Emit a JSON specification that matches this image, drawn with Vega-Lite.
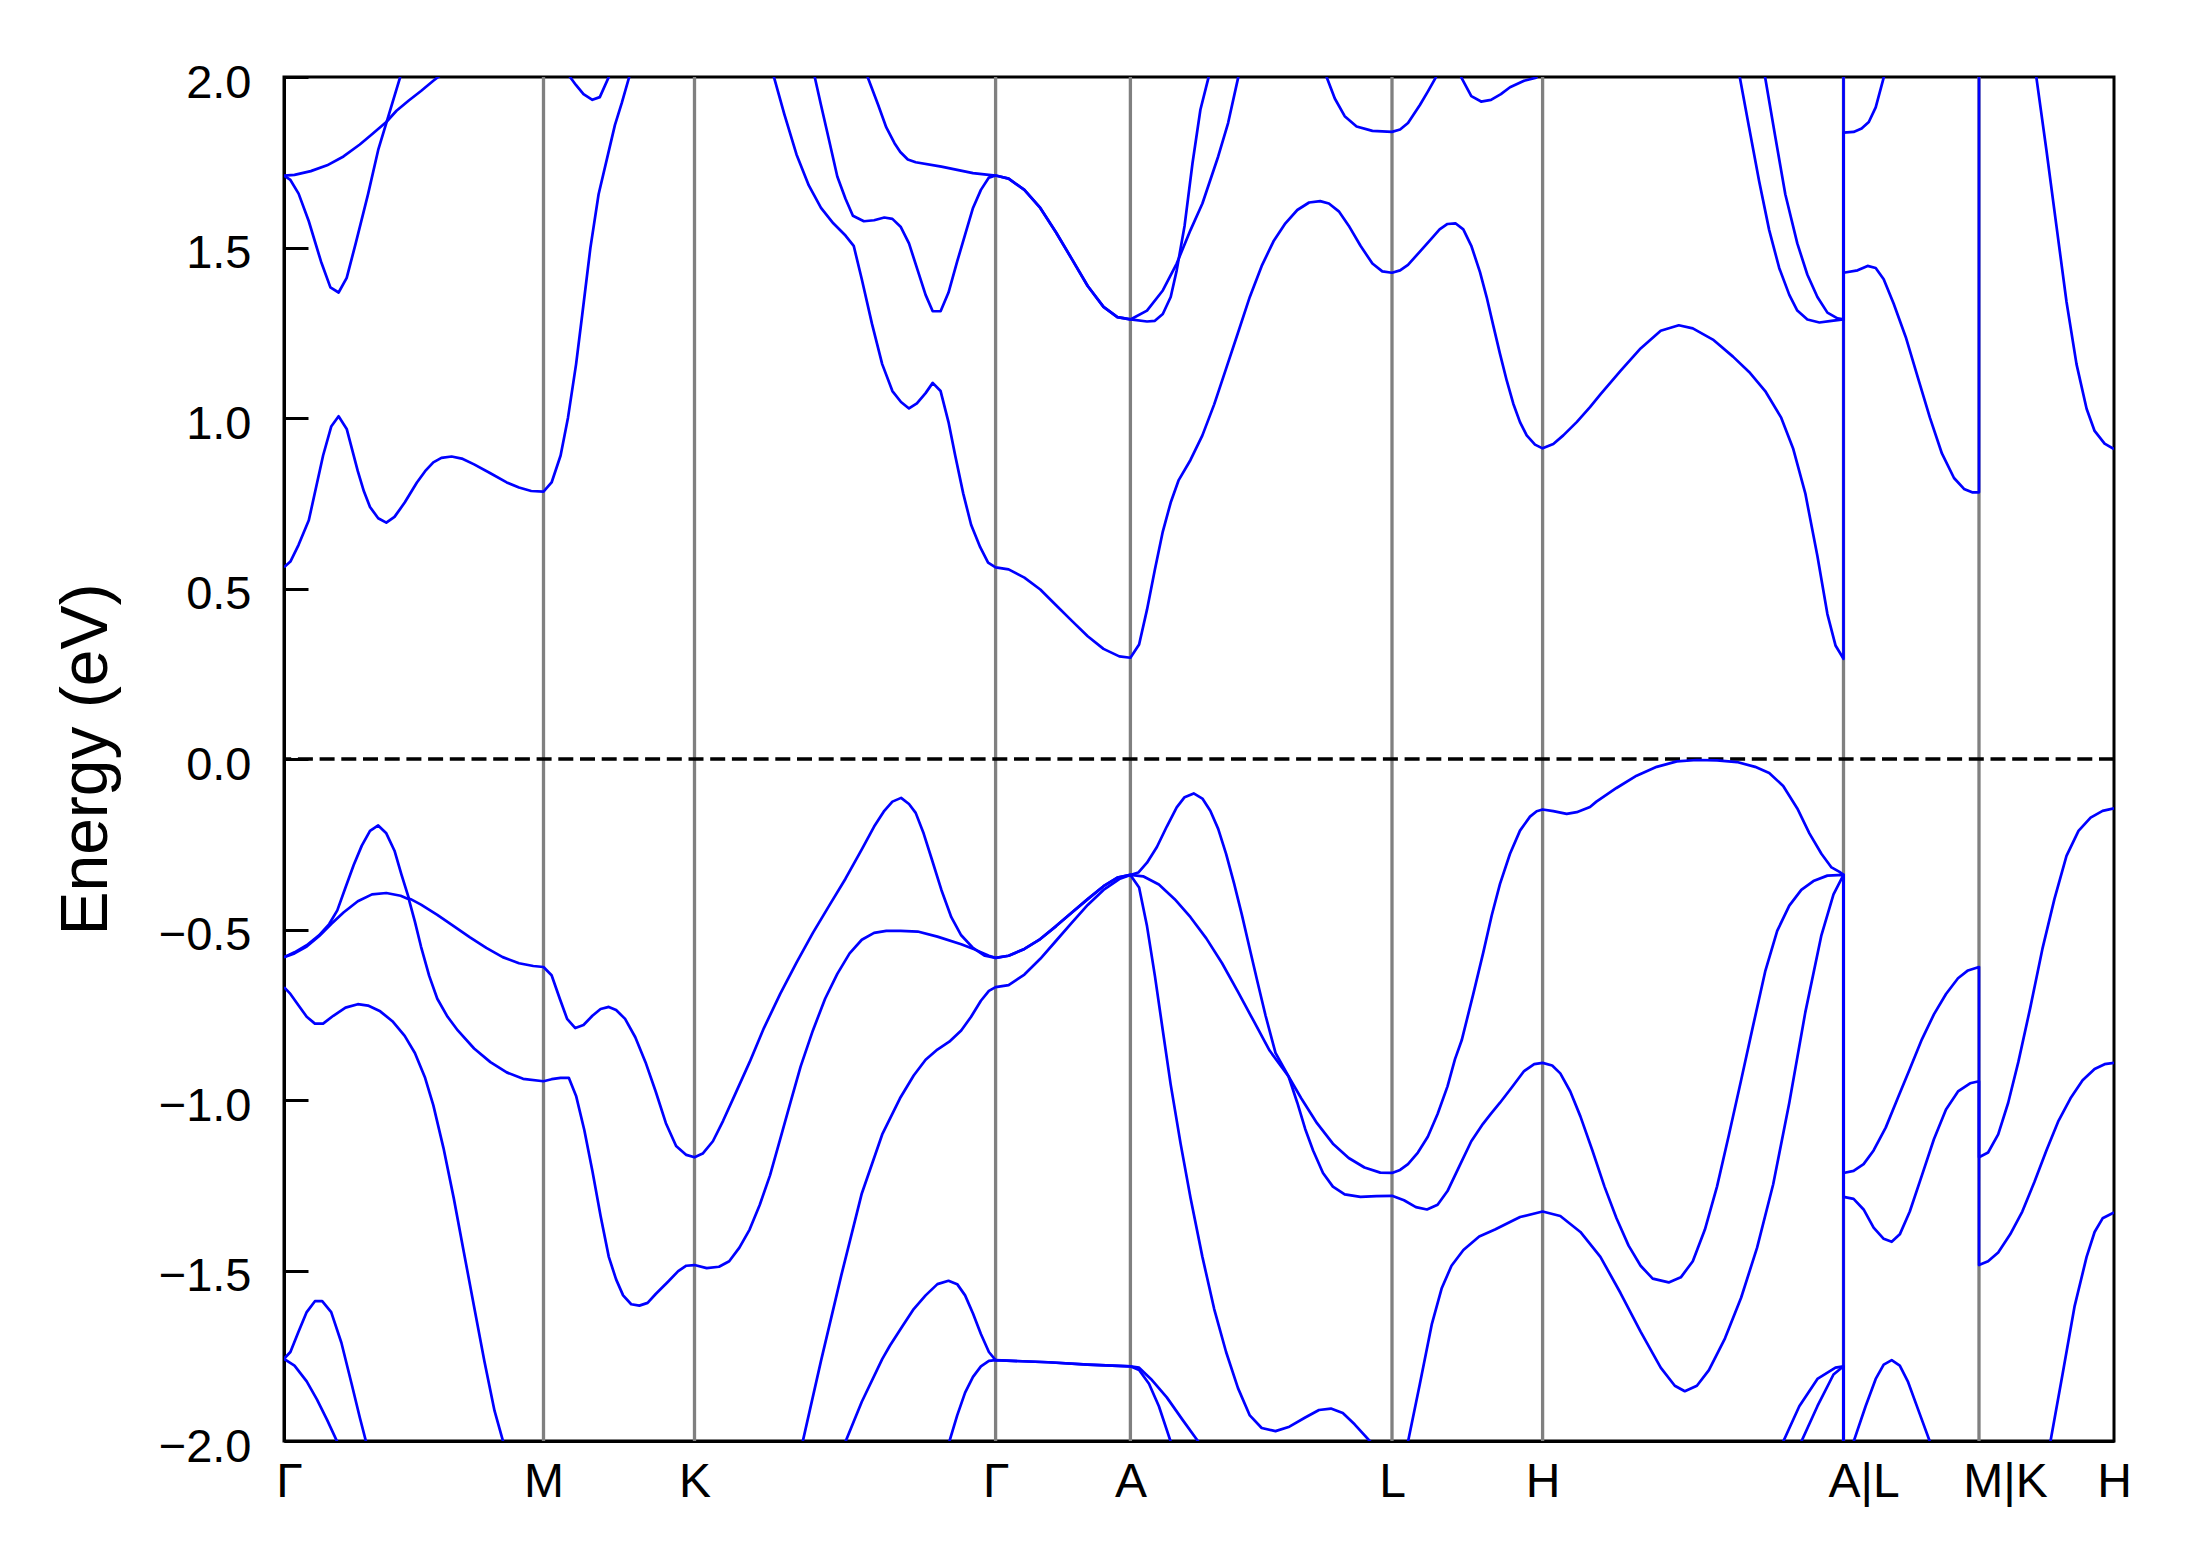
{
"$schema": "https://vega.github.io/schema/vega-lite/v6.json",
"width": 1830, "height": 1364,
"autosize": {"type": "none"},
"padding": {"left": 284, "top": 77, "right": 77, "bottom": 126},
"background": "white",
"config": {"font": "Liberation Sans", "view": {"stroke": "black", "strokeWidth": 3},
  "axisX": {"labelExpr": "datum.value < 1 ? 'Γ' : datum.value < 300 ? 'M' : datum.value < 500 ? 'K' : datum.value < 800 ? 'Γ' : datum.value < 900 ? 'A' : datum.value < 1200 ? 'L' : datum.value < 1400 ? 'H' : datum.value < 1600 ? 'A|L' : datum.value < 1750 ? 'M|K' : 'H'",
            "ticks": false, "grid": false,
            "labelFontSize": 48, "labelColor": "black", "labelPadding": 17,
            "labelFlush": false, "labelOverlap": false, "labelBound": false,
            "domain": true, "domainColor": "black", "domainWidth": 3, "zindex": 1},
  "axisY": {"format": ".1f",
            "titleFontSize": 66, "titleFontWeight": "normal", "titleColor": "black", "titlePadding": 38,
            "labelFontSize": 47, "labelColor": "black", "labelPadding": 57, "labelOffset": 6,
            "tickSize": -24, "tickWidth": 3, "tickColor": "black", "grid": false,
            "labelFlush": false, "labelOverlap": false, "labelBound": false,
            "domain": true, "domainColor": "black", "domainWidth": 3, "zindex": 1}
},
"datasets": {
"kpts": [{"x":259.5},{"x":410.5},{"x":711.6},{"x":846.4},{"x":1108},{"x":1258.6},{"x":1559.5},{"x":1695}],
"zero": [{"e":0}],
"bands": [
{"b":"c1a","x":0,"e":0.562},{"b":"c1a","x":6.4,"e":0.579},{"b":"c1a","x":14.6,"e":0.628},{"b":"c1a","x":24.8,"e":0.700},{"b":"c1a","x":39.1,"e":0.890},{"b":"c1a","x":47.2,"e":0.975},{"b":"c1a","x":54.6,"e":1.005},{"b":"c1a","x":62.7,"e":0.968},{"b":"c1a","x":73.8,"e":0.844},{"b":"c1a","x":79.9,"e":0.785},{"b":"c1a","x":86,"e":0.739},{"b":"c1a","x":94.2,"e":0.706},{"b":"c1a","x":102.3,"e":0.693},{"b":"c1a","x":110.5,"e":0.710},{"b":"c1a","x":120.7,"e":0.752},{"b":"c1a","x":132.9,"e":0.811},{"b":"c1a","x":141.1,"e":0.844},{"b":"c1a","x":149.3,"e":0.870},{"b":"c1a","x":157.4,"e":0.883},{"b":"c1a","x":167.6,"e":0.887},{"b":"c1a","x":177.8,"e":0.881},{"b":"c1a","x":190.1,"e":0.864},{"b":"c1a","x":206.4,"e":0.838},{"b":"c1a","x":222.7,"e":0.811},{"b":"c1a","x":235,"e":0.796},{"b":"c1a","x":247.2,"e":0.786},{"b":"c1a","x":259.5,"e":0.784},{"b":"c1a","x":267.6,"e":0.811},{"b":"c1a","x":276.6,"e":0.890},{"b":"c1a","x":284,"e":1.001},{"b":"c1a","x":292.1,"e":1.158},{"b":"c1a","x":298.2,"e":1.302},{"b":"c1a","x":306.4,"e":1.499},{"b":"c1a","x":314.6,"e":1.656},{"b":"c1a","x":324,"e":1.773},{"b":"c1a","x":330.9,"e":1.859},{"b":"c1a","x":337.8,"e":1.924},{"b":"c1a","x":345.2,"e":2.0},{"b":"c1a","x":352,"e":2.12},
{"b":"c1b","x":480.0,"e":2.107},{"b":"c1b","x":490.1,"e":1.998},{"b":"c1b","x":500.3,"e":1.891},{"b":"c1b","x":512.5,"e":1.773},{"b":"c1b","x":524.8,"e":1.682},{"b":"c1b","x":537.0,"e":1.616},{"b":"c1b","x":549.3,"e":1.571},{"b":"c1b","x":561.5,"e":1.535},{"b":"c1b","x":569.7,"e":1.505},{"b":"c1b","x":577.8,"e":1.407},{"b":"c1b","x":588.0,"e":1.276},{"b":"c1b","x":598.2,"e":1.158},{"b":"c1b","x":608.4,"e":1.079},{"b":"c1b","x":617.0,"e":1.047},{"b":"c1b","x":625.0,"e":1.028},{"b":"c1b","x":632.9,"e":1.043},{"b":"c1b","x":641.6,"e":1.073},{"b":"c1b","x":648.7,"e":1.103},{"b":"c1b","x":656.6,"e":1.079},{"b":"c1b","x":664.5,"e":0.988},{"b":"c1b","x":671.2,"e":0.890},{"b":"c1b","x":679.2,"e":0.779},{"b":"c1b","x":687.1,"e":0.687},{"b":"c1b","x":696.2,"e":0.621},{"b":"c1b","x":704.1,"e":0.576},{"b":"c1b","x":711.6,"e":0.562},{"b":"c1b","x":724.6,"e":0.556},{"b":"c1b","x":740.4,"e":0.532},{"b":"c1b","x":756.3,"e":0.497},{"b":"c1b","x":772.1,"e":0.451},{"b":"c1b","x":787.9,"e":0.405},{"b":"c1b","x":803.7,"e":0.360},{"b":"c1b","x":819.5,"e":0.323},{"b":"c1b","x":835.3,"e":0.301},{"b":"c1b","x":846.4,"e":0.297},{"b":"c1b","x":855.1,"e":0.336},{"b":"c1b","x":863.0,"e":0.438},{"b":"c1b","x":870.9,"e":0.556},{"b":"c1b","x":878.8,"e":0.667},{"b":"c1b","x":886.7,"e":0.752},{"b":"c1b","x":894.7,"e":0.818},{"b":"c1b","x":906.5,"e":0.877},{"b":"c1b","x":918.4,"e":0.949},{"b":"c1b","x":930.2,"e":1.040},{"b":"c1b","x":942.1,"e":1.145},{"b":"c1b","x":954.0,"e":1.250},{"b":"c1b","x":965.8,"e":1.355},{"b":"c1b","x":977.7,"e":1.446},{"b":"c1b","x":989.5,"e":1.518},{"b":"c1b","x":1001.4,"e":1.571},{"b":"c1b","x":1013.3,"e":1.610},{"b":"c1b","x":1025.1,"e":1.632},{"b":"c1b","x":1036.2,"e":1.636},{"b":"c1b","x":1044.9,"e":1.629},{"b":"c1b","x":1054.8,"e":1.606},{"b":"c1b","x":1064.7,"e":1.564},{"b":"c1b","x":1076.5,"e":1.505},{"b":"c1b","x":1088.4,"e":1.453},{"b":"c1b","x":1098.3,"e":1.430},{"b":"c1b","x":1108.0,"e":1.426},{"b":"c1b","x":1116.1,"e":1.433},{"b":"c1b","x":1124.0,"e":1.449},{"b":"c1b","x":1135.9,"e":1.488},{"b":"c1b","x":1147.7,"e":1.527},{"b":"c1b","x":1155.6,"e":1.553},{"b":"c1b","x":1163.5,"e":1.569},{"b":"c1b","x":1171.4,"e":1.571},{"b":"c1b","x":1179.3,"e":1.553},{"b":"c1b","x":1187.3,"e":1.505},{"b":"c1b","x":1196.0,"e":1.428},{"b":"c1b","x":1202.7,"e":1.354},{"b":"c1b","x":1209.3,"e":1.271},{"b":"c1b","x":1216.0,"e":1.188},{"b":"c1b","x":1222.7,"e":1.110},{"b":"c1b","x":1229.3,"e":1.042},{"b":"c1b","x":1236.0,"e":0.988},{"b":"c1b","x":1242.7,"e":0.949},{"b":"c1b","x":1251.0,"e":0.922},{"b":"c1b","x":1258.6,"e":0.911},{"b":"c1b","x":1269.3,"e":0.924},{"b":"c1b","x":1279.3,"e":0.949},{"b":"c1b","x":1292.7,"e":0.988},{"b":"c1b","x":1306.0,"e":1.032},{"b":"c1b","x":1316.4,"e":1.069},{"b":"c1b","x":1336.5,"e":1.138},{"b":"c1b","x":1356.6,"e":1.204},{"b":"c1b","x":1376.7,"e":1.256},{"b":"c1b","x":1394.8,"e":1.272},{"b":"c1b","x":1408.8,"e":1.263},{"b":"c1b","x":1428.9,"e":1.230},{"b":"c1b","x":1449.0,"e":1.180},{"b":"c1b","x":1465.1,"e":1.135},{"b":"c1b","x":1481.2,"e":1.079},{"b":"c1b","x":1497.2,"e":1.001},{"b":"c1b","x":1509.3,"e":0.909},{"b":"c1b","x":1521.3,"e":0.779},{"b":"c1b","x":1533.4,"e":0.595},{"b":"c1b","x":1543.4,"e":0.425},{"b":"c1b","x":1551.5,"e":0.333},{"b":"c1b","x":1559.5,"e":0.294},{"b":"c1b","x":1559.5,"e":1.426},{"b":"c1b","x":1573.6,"e":1.433},{"b":"c1b","x":1583.6,"e":1.446},{"b":"c1b","x":1591.7,"e":1.440},{"b":"c1b","x":1599.7,"e":1.407},{"b":"c1b","x":1609.7,"e":1.335},{"b":"c1b","x":1621.8,"e":1.237},{"b":"c1b","x":1633.8,"e":1.119},{"b":"c1b","x":1645.9,"e":1.001},{"b":"c1b","x":1657.9,"e":0.896},{"b":"c1b","x":1670.0,"e":0.824},{"b":"c1b","x":1680.0,"e":0.792},{"b":"c1b","x":1688.1,"e":0.782},{"b":"c1b","x":1695.0,"e":0.782},{"b":"c1b","x":1695.0,"e":2.6},
{"b":"c1c","x":1746.4,"e":2.128},{"b":"c1c","x":1752.4,"e":1.998},{"b":"c1c","x":1762.4,"e":1.786},{"b":"c1c","x":1772.4,"e":1.564},{"b":"c1c","x":1782.5,"e":1.341},{"b":"c1c","x":1792.5,"e":1.158},{"b":"c1c","x":1802.6,"e":1.027},{"b":"c1c","x":1810.6,"e":0.962},{"b":"c1c","x":1820.6,"e":0.925},{"b":"c1c","x":1830.0,"e":0.909},
{"b":"c2","x":0,"e":1.711},{"b":"c2","x":6.4,"e":1.698},{"b":"c2","x":14.6,"e":1.658},{"b":"c2","x":24.8,"e":1.577},{"b":"c2","x":37.0,"e":1.459},{"b":"c2","x":46.4,"e":1.383},{"b":"c2","x":54.6,"e":1.368},{"b":"c2","x":62.7,"e":1.411},{"b":"c2","x":71.7,"e":1.512},{"b":"c2","x":84.0,"e":1.656},{"b":"c2","x":94.2,"e":1.786},{"b":"c2","x":102.3,"e":1.865},{"b":"c2","x":108.4,"e":1.924},{"b":"c2","x":115.8,"e":1.996},{"b":"c2","x":120,"e":2.06},
{"b":"c3","x":0,"e":1.711},{"b":"c3","x":10.5,"e":1.713},{"b":"c3","x":26.8,"e":1.724},{"b":"c3","x":43.1,"e":1.741},{"b":"c3","x":59.5,"e":1.767},{"b":"c3","x":75.8,"e":1.802},{"b":"c3","x":88.0,"e":1.832},{"b":"c3","x":102.3,"e":1.868},{"b":"c3","x":112.5,"e":1.901},{"b":"c3","x":124.8,"e":1.931},{"b":"c3","x":137.0,"e":1.959},{"b":"c3","x":149.3,"e":1.989},{"b":"c3","x":154.2,"e":2.0},{"b":"c3","x":160,"e":2.013},
{"b":"dip","x":283,"e":2.03},{"b":"dip","x":286.0,"e":2.0},{"b":"dip","x":292.1,"e":1.976},{"b":"dip","x":299.5,"e":1.950},{"b":"dip","x":308.4,"e":1.933},{"b":"dip","x":315.8,"e":1.941},{"b":"dip","x":324.8,"e":2.0},{"b":"dip","x":327,"e":2.03},
{"b":"c2p","x":527,"e":2.05},{"b":"c2p","x":530.9,"e":1.998},{"b":"c2p","x":537.0,"e":1.918},{"b":"c2p","x":545.2,"e":1.813},{"b":"c2p","x":553.3,"e":1.708},{"b":"c2p","x":561.5,"e":1.643},{"b":"c2p","x":568.9,"e":1.593},{"b":"c2p","x":579.9,"e":1.577},{"b":"c2p","x":590.1,"e":1.580},{"b":"c2p","x":600.3,"e":1.588},{"b":"c2p","x":608.4,"e":1.584},{"b":"c2p","x":616.6,"e":1.561},{"b":"c2p","x":625.0,"e":1.512},{"b":"c2p","x":633.7,"e":1.433},{"b":"c2p","x":641.6,"e":1.361},{"b":"c2p","x":648.7,"e":1.313},{"b":"c2p","x":656.6,"e":1.313},{"b":"c2p","x":664.5,"e":1.368},{"b":"c2p","x":673.2,"e":1.459},{"b":"c2p","x":681.1,"e":1.538},{"b":"c2p","x":689.0,"e":1.616},{"b":"c2p","x":696.9,"e":1.669},{"b":"c2p","x":704.9,"e":1.705},{"b":"c2p","x":711.6,"e":1.711},{"b":"c2p","x":724.6,"e":1.702},{"b":"c2p","x":740.4,"e":1.669},{"b":"c2p","x":756.3,"e":1.616},{"b":"c2p","x":772.1,"e":1.544},{"b":"c2p","x":787.9,"e":1.466},{"b":"c2p","x":803.7,"e":1.387},{"b":"c2p","x":819.5,"e":1.326},{"b":"c2p","x":833.4,"e":1.296},{"b":"c2p","x":846.4,"e":1.289},{"b":"c2p","x":863.0,"e":1.315},{"b":"c2p","x":878.8,"e":1.374},{"b":"c2p","x":892.7,"e":1.453},{"b":"c2p","x":906.5,"e":1.551},{"b":"c2p","x":918.4,"e":1.629},{"b":"c2p","x":934.2,"e":1.767},{"b":"c2p","x":944.1,"e":1.865},{"b":"c2p","x":954.0,"e":1.996},{"b":"c2p","x":957,"e":2.04},
{"b":"c3p","x":579,"e":2.04},{"b":"c3p","x":583.9,"e":1.998},{"b":"c3p","x":594.2,"e":1.918},{"b":"c3p","x":602.3,"e":1.852},{"b":"c3p","x":610.5,"e":1.806},{"b":"c3p","x":616.3,"e":1.780},{"b":"c3p","x":623.8,"e":1.758},{"b":"c3p","x":631.7,"e":1.750},{"b":"c3p","x":657.4,"e":1.737},{"b":"c3p","x":689.0,"e":1.718},{"b":"c3p","x":711.6,"e":1.711},{"b":"c3p","x":724.6,"e":1.702},{"b":"c3p","x":740.4,"e":1.669},{"b":"c3p","x":756.3,"e":1.616},{"b":"c3p","x":772.1,"e":1.544},{"b":"c3p","x":787.9,"e":1.466},{"b":"c3p","x":803.7,"e":1.387},{"b":"c3p","x":819.5,"e":1.326},{"b":"c3p","x":833.4,"e":1.296},{"b":"c3p","x":846.4,"e":1.289},{"b":"c3p","x":863.0,"e":1.283},{"b":"c3p","x":870.9,"e":1.285},{"b":"c3p","x":878.8,"e":1.305},{"b":"c3p","x":886.7,"e":1.355},{"b":"c3p","x":892.7,"e":1.433},{"b":"c3p","x":900.6,"e":1.564},{"b":"c3p","x":908.5,"e":1.747},{"b":"c3p","x":916.4,"e":1.904},{"b":"c3p","x":924.3,"e":1.996},{"b":"c3p","x":926,"e":2.02},
{"b":"topL","x":1039,"e":2.03},{"b":"topL","x":1042.9,"e":1.998},{"b":"topL","x":1050.8,"e":1.937},{"b":"topL","x":1060.7,"e":1.885},{"b":"topL","x":1072.6,"e":1.855},{"b":"topL","x":1088.4,"e":1.842},{"b":"topL","x":1108.0,"e":1.839},{"b":"topL","x":1116.1,"e":1.846},{"b":"topL","x":1124.0,"e":1.865},{"b":"topL","x":1135.9,"e":1.918},{"b":"topL","x":1143.8,"e":1.957},{"b":"topL","x":1151.7,"e":1.998},{"b":"topL","x":1154,"e":2.03},
{"b":"topLH","x":1174,"e":2.03},{"b":"topLH","x":1177.4,"e":1.998},{"b":"topLH","x":1187.3,"e":1.944},{"b":"topLH","x":1197.1,"e":1.928},{"b":"topLH","x":1207.0,"e":1.933},{"b":"topLH","x":1216.9,"e":1.950},{"b":"topLH","x":1226.0,"e":1.970},{"b":"topLH","x":1240.1,"e":1.989},{"b":"topLH","x":1252.2,"e":1.998},{"b":"topLH","x":1256,"e":2.02},
{"b":"cx","x":1452,"e":2.1},{"b":"cx","x":1455.9,"e":1.998},{"b":"cx","x":1465.1,"e":1.852},{"b":"cx","x":1475.1,"e":1.695},{"b":"cx","x":1485.2,"e":1.551},{"b":"cx","x":1495.2,"e":1.440},{"b":"cx","x":1505.3,"e":1.361},{"b":"cx","x":1513.3,"e":1.315},{"b":"cx","x":1523.4,"e":1.289},{"b":"cx","x":1535.4,"e":1.280},{"b":"cx","x":1547.5,"e":1.285},{"b":"cx","x":1559.5,"e":1.289},{"b":"cx","x":1559.5,"e":1.837},{"b":"cx","x":1569.6,"e":1.839},{"b":"cx","x":1577.6,"e":1.849},{"b":"cx","x":1584.8,"e":1.868},{"b":"cx","x":1591.7,"e":1.911},{"b":"cx","x":1599.7,"e":1.998},{"b":"cx","x":1602,"e":2.03},
{"b":"cy","x":1478,"e":2.06},{"b":"cy","x":1481.2,"e":1.998},{"b":"cy","x":1491.2,"e":1.826},{"b":"cy","x":1501.3,"e":1.656},{"b":"cy","x":1513.3,"e":1.512},{"b":"cy","x":1523.4,"e":1.420},{"b":"cy","x":1533.4,"e":1.355},{"b":"cy","x":1543.4,"e":1.309},{"b":"cy","x":1553.5,"e":1.292},{"b":"cy","x":1559.5,"e":1.289},{"b":"cy","x":1559.5,"e":2.6},
{"b":"v1","x":0,"e":-0.581},{"b":"v1","x":10.5,"e":-0.567},{"b":"v1","x":22.7,"e":-0.546},{"b":"v1","x":35.0,"e":-0.517},{"b":"v1","x":45.2,"e":-0.484},{"b":"v1","x":53.3,"e":-0.444},{"b":"v1","x":61.5,"e":-0.377},{"b":"v1","x":69.7,"e":-0.311},{"b":"v1","x":77.8,"e":-0.254},{"b":"v1","x":86.0,"e":-0.211},{"b":"v1","x":94.2,"e":-0.195},{"b":"v1","x":102.3,"e":-0.218},{"b":"v1","x":110.5,"e":-0.269},{"b":"v1","x":117.4,"e":-0.338},{"b":"v1","x":124.8,"e":-0.408},{"b":"v1","x":137.0,"e":-0.427},{"b":"v1","x":153.3,"e":-0.457},{"b":"v1","x":169.7,"e":-0.490},{"b":"v1","x":186.0,"e":-0.523},{"b":"v1","x":202.3,"e":-0.554},{"b":"v1","x":218.7,"e":-0.581},{"b":"v1","x":235.0,"e":-0.599},{"b":"v1","x":249.3,"e":-0.607},{"b":"v1","x":259.5,"e":-0.610},{"b":"v1","x":267.6,"e":-0.634},{"b":"v1","x":275.8,"e":-0.703},{"b":"v1","x":283.1,"e":-0.762},{"b":"v1","x":291.3,"e":-0.789},{"b":"v1","x":299.5,"e":-0.780},{"b":"v1","x":308.4,"e":-0.753},{"b":"v1","x":316.6,"e":-0.733},{"b":"v1","x":324.8,"e":-0.727},{"b":"v1","x":332.1,"e":-0.736},{"b":"v1","x":341.1,"e":-0.762},{"b":"v1","x":351.3,"e":-0.816},{"b":"v1","x":361.5,"e":-0.889},{"b":"v1","x":371.7,"e":-0.975},{"b":"v1","x":381.9,"e":-1.068},{"b":"v1","x":392.1,"e":-1.135},{"b":"v1","x":402.3,"e":-1.161},{"b":"v1","x":410.5,"e":-1.168},{"b":"v1","x":418.7,"e":-1.157},{"b":"v1","x":428.9,"e":-1.121},{"b":"v1","x":439.1,"e":-1.061},{"b":"v1","x":451.3,"e":-0.982},{"b":"v1","x":465.6,"e":-0.889},{"b":"v1","x":479.9,"e":-0.789},{"b":"v1","x":496.2,"e":-0.689},{"b":"v1","x":512.5,"e":-0.597},{"b":"v1","x":528.9,"e":-0.510},{"b":"v1","x":545.2,"e":-0.430},{"b":"v1","x":561.5,"e":-0.351},{"b":"v1","x":577.8,"e":-0.265},{"b":"v1","x":590.1,"e":-0.198},{"b":"v1","x":600.3,"e":-0.152},{"b":"v1","x":608.4,"e":-0.125},{"b":"v1","x":617.1,"e":-0.114},{"b":"v1","x":625.0,"e":-0.132},{"b":"v1","x":631.7,"e":-0.158},{"b":"v1","x":639.6,"e":-0.218},{"b":"v1","x":647.5,"e":-0.291},{"b":"v1","x":657.4,"e":-0.384},{"b":"v1","x":667.3,"e":-0.464},{"b":"v1","x":677.2,"e":-0.517},{"b":"v1","x":689.0,"e":-0.554},{"b":"v1","x":700.9,"e":-0.577},{"b":"v1","x":711.6,"e":-0.583},{"b":"v1","x":724.6,"e":-0.577},{"b":"v1","x":740.4,"e":-0.557},{"b":"v1","x":756.3,"e":-0.528},{"b":"v1","x":772.1,"e":-0.490},{"b":"v1","x":787.9,"e":-0.450},{"b":"v1","x":803.7,"e":-0.411},{"b":"v1","x":819.5,"e":-0.373},{"b":"v1","x":833.4,"e":-0.348},{"b":"v1","x":846.4,"e":-0.340},{"b":"v1","x":854.3,"e":-0.333},{"b":"v1","x":863.0,"e":-0.304},{"b":"v1","x":872.9,"e":-0.258},{"b":"v1","x":882.8,"e":-0.198},{"b":"v1","x":892.7,"e":-0.142},{"b":"v1","x":900.6,"e":-0.112},{"b":"v1","x":909.7,"e":-0.101},{"b":"v1","x":918.4,"e":-0.116},{"b":"v1","x":926.3,"e":-0.152},{"b":"v1","x":934.2,"e":-0.205},{"b":"v1","x":942.1,"e":-0.278},{"b":"v1","x":950.0,"e":-0.364},{"b":"v1","x":957.9,"e":-0.457},{"b":"v1","x":965.8,"e":-0.557},{"b":"v1","x":973.7,"e":-0.656},{"b":"v1","x":981.6,"e":-0.753},{"b":"v1","x":991.5,"e":-0.862},{"b":"v1","x":1004.6,"e":-0.931},{"b":"v1","x":1017.2,"e":-0.995},{"b":"v1","x":1033.0,"e":-1.068},{"b":"v1","x":1048.9,"e":-1.128},{"b":"v1","x":1064.7,"e":-1.170},{"b":"v1","x":1080.5,"e":-1.198},{"b":"v1","x":1096.3,"e":-1.213},{"b":"v1","x":1108.0,"e":-1.214},{"b":"v1","x":1116.1,"e":-1.205},{"b":"v1","x":1124.0,"e":-1.188},{"b":"v1","x":1133.9,"e":-1.154},{"b":"v1","x":1143.8,"e":-1.108},{"b":"v1","x":1153.6,"e":-1.041},{"b":"v1","x":1163.5,"e":-0.960},{"b":"v1","x":1171.0,"e":-0.880},{"b":"v1","x":1177.7,"e":-0.825},{"b":"v1","x":1189.3,"e":-0.689},{"b":"v1","x":1199.3,"e":-0.567},{"b":"v1","x":1207.7,"e":-0.459},{"b":"v1","x":1216.0,"e":-0.366},{"b":"v1","x":1226.0,"e":-0.278},{"b":"v1","x":1236.0,"e":-0.210},{"b":"v1","x":1246.0,"e":-0.169},{"b":"v1","x":1252.7,"e":-0.153},{"b":"v1","x":1258.6,"e":-0.148},{"b":"v1","x":1269.3,"e":-0.153},{"b":"v1","x":1282.7,"e":-0.161},{"b":"v1","x":1292.7,"e":-0.156},{"b":"v1","x":1306.0,"e":-0.141},{"b":"v1","x":1312.4,"e":-0.125},{"b":"v1","x":1332.5,"e":-0.085},{"b":"v1","x":1352.6,"e":-0.049},{"b":"v1","x":1372.7,"e":-0.023},{"b":"v1","x":1392.8,"e":-0.007},{"b":"v1","x":1412.9,"e":-0.003},{"b":"v1","x":1433.0,"e":-0.004},{"b":"v1","x":1453.0,"e":-0.009},{"b":"v1","x":1471.1,"e":-0.023},{"b":"v1","x":1485.2,"e":-0.041},{"b":"v1","x":1499.2,"e":-0.079},{"b":"v1","x":1513.3,"e":-0.145},{"b":"v1","x":1525.4,"e":-0.218},{"b":"v1","x":1537.4,"e":-0.278},{"b":"v1","x":1547.5,"e":-0.318},{"b":"v1","x":1555.5,"e":-0.331},{"b":"v1","x":1559.5,"e":-0.340},{"b":"v1","x":1559.5,"e":-1.214},{"b":"v1","x":1569.6,"e":-1.208},{"b":"v1","x":1579.6,"e":-1.188},{"b":"v1","x":1589.6,"e":-1.148},{"b":"v1","x":1601.7,"e":-1.081},{"b":"v1","x":1613.7,"e":-0.995},{"b":"v1","x":1625.8,"e":-0.909},{"b":"v1","x":1637.9,"e":-0.822},{"b":"v1","x":1649.9,"e":-0.749},{"b":"v1","x":1662.0,"e":-0.689},{"b":"v1","x":1674.0,"e":-0.643},{"b":"v1","x":1684.0,"e":-0.620},{"b":"v1","x":1695.0,"e":-0.610},{"b":"v1","x":1695.0,"e":-1.168},{"b":"v1","x":1704.1,"e":-1.154},{"b":"v1","x":1714.2,"e":-1.101},{"b":"v1","x":1724.2,"e":-1.008},{"b":"v1","x":1734.3,"e":-0.889},{"b":"v1","x":1746.3,"e":-0.729},{"b":"v1","x":1758.4,"e":-0.557},{"b":"v1","x":1770.4,"e":-0.411},{"b":"v1","x":1782.5,"e":-0.284},{"b":"v1","x":1794.5,"e":-0.211},{"b":"v1","x":1806.6,"e":-0.172},{"b":"v1","x":1818.6,"e":-0.152},{"b":"v1","x":1830.0,"e":-0.145},
{"b":"v2","x":0,"e":-0.581},{"b":"v2","x":10.5,"e":-0.570},{"b":"v2","x":22.7,"e":-0.550},{"b":"v2","x":35.0,"e":-0.520},{"b":"v2","x":47.2,"e":-0.484},{"b":"v2","x":59.5,"e":-0.450},{"b":"v2","x":73.8,"e":-0.417},{"b":"v2","x":88.0,"e":-0.397},{"b":"v2","x":102.3,"e":-0.393},{"b":"v2","x":116.6,"e":-0.401},{"b":"v2","x":124.8,"e":-0.411},{"b":"v2","x":130.9,"e":-0.477},{"b":"v2","x":137.0,"e":-0.550},{"b":"v2","x":145.2,"e":-0.636},{"b":"v2","x":153.3,"e":-0.703},{"b":"v2","x":163.6,"e":-0.756},{"b":"v2","x":173.8,"e":-0.796},{"b":"v2","x":190.1,"e":-0.849},{"b":"v2","x":206.4,"e":-0.889},{"b":"v2","x":222.7,"e":-0.919},{"b":"v2","x":239.1,"e":-0.938},{"b":"v2","x":259.5,"e":-0.945},{"b":"v2","x":267.6,"e":-0.939},{"b":"v2","x":276.6,"e":-0.935},{"b":"v2","x":284.8,"e":-0.935},{"b":"v2","x":292.1,"e":-0.988},{"b":"v2","x":300.3,"e":-1.088},{"b":"v2","x":308.4,"e":-1.208},{"b":"v2","x":316.6,"e":-1.340},{"b":"v2","x":324.8,"e":-1.460},{"b":"v2","x":332.1,"e":-1.526},{"b":"v2","x":339.1,"e":-1.573},{"b":"v2","x":347.2,"e":-1.599},{"b":"v2","x":355.4,"e":-1.603},{"b":"v2","x":363.6,"e":-1.595},{"b":"v2","x":371.7,"e":-1.569},{"b":"v2","x":384.0,"e":-1.533},{"b":"v2","x":394.2,"e":-1.502},{"b":"v2","x":402.3,"e":-1.486},{"b":"v2","x":410.5,"e":-1.484},{"b":"v2","x":422.7,"e":-1.493},{"b":"v2","x":435.0,"e":-1.489},{"b":"v2","x":445.2,"e":-1.473},{"b":"v2","x":455.4,"e":-1.433},{"b":"v2","x":465.6,"e":-1.380},{"b":"v2","x":475.8,"e":-1.307},{"b":"v2","x":486.0,"e":-1.221},{"b":"v2","x":496.2,"e":-1.115},{"b":"v2","x":506.4,"e":-1.008},{"b":"v2","x":516.6,"e":-0.902},{"b":"v2","x":528.9,"e":-0.796},{"b":"v2","x":541.1,"e":-0.703},{"b":"v2","x":553.3,"e":-0.630},{"b":"v2","x":565.6,"e":-0.570},{"b":"v2","x":577.8,"e":-0.530},{"b":"v2","x":590.1,"e":-0.510},{"b":"v2","x":602.3,"e":-0.504},{"b":"v2","x":616.6,"e":-0.504},{"b":"v2","x":633.7,"e":-0.506},{"b":"v2","x":653.4,"e":-0.521},{"b":"v2","x":677.2,"e":-0.543},{"b":"v2","x":691.0,"e":-0.559},{"b":"v2","x":704.9,"e":-0.577},{"b":"v2","x":711.6,"e":-0.583},{"b":"v2","x":724.6,"e":-0.577},{"b":"v2","x":740.4,"e":-0.557},{"b":"v2","x":756.3,"e":-0.528},{"b":"v2","x":772.1,"e":-0.490},{"b":"v2","x":787.9,"e":-0.450},{"b":"v2","x":803.7,"e":-0.411},{"b":"v2","x":819.5,"e":-0.373},{"b":"v2","x":833.4,"e":-0.348},{"b":"v2","x":846.4,"e":-0.340},{"b":"v2","x":859.1,"e":-0.344},{"b":"v2","x":874.9,"e":-0.368},{"b":"v2","x":890.7,"e":-0.411},{"b":"v2","x":906.5,"e":-0.464},{"b":"v2","x":922.3,"e":-0.526},{"b":"v2","x":938.1,"e":-0.599},{"b":"v2","x":954.0,"e":-0.683},{"b":"v2","x":969.8,"e":-0.769},{"b":"v2","x":985.6,"e":-0.855},{"b":"v2","x":1004.6,"e":-0.931},{"b":"v2","x":1013.3,"e":-1.008},{"b":"v2","x":1021.2,"e":-1.085},{"b":"v2","x":1029.1,"e":-1.148},{"b":"v2","x":1039.0,"e":-1.214},{"b":"v2","x":1048.9,"e":-1.254},{"b":"v2","x":1060.7,"e":-1.277},{"b":"v2","x":1076.5,"e":-1.284},{"b":"v2","x":1092.4,"e":-1.282},{"b":"v2","x":1108.0,"e":-1.281},{"b":"v2","x":1120.0,"e":-1.294},{"b":"v2","x":1131.9,"e":-1.314},{"b":"v2","x":1143.0,"e":-1.321},{"b":"v2","x":1153.6,"e":-1.307},{"b":"v2","x":1163.5,"e":-1.267},{"b":"v2","x":1175.4,"e":-1.194},{"b":"v2","x":1187.3,"e":-1.121},{"b":"v2","x":1199.0,"e":-1.070},{"b":"v2","x":1207.0,"e":-1.040},{"b":"v2","x":1216.0,"e":-1.008},{"b":"v2","x":1228.1,"e":-0.962},{"b":"v2","x":1240.1,"e":-0.915},{"b":"v2","x":1250.2,"e":-0.895},{"b":"v2","x":1258.6,"e":-0.891},{"b":"v2","x":1268.2,"e":-0.899},{"b":"v2","x":1276.3,"e":-0.922},{"b":"v2","x":1286.3,"e":-0.975},{"b":"v2","x":1296.4,"e":-1.048},{"b":"v2","x":1308.4,"e":-1.148},{"b":"v2","x":1320.5,"e":-1.254},{"b":"v2","x":1332.5,"e":-1.347},{"b":"v2","x":1344.6,"e":-1.427},{"b":"v2","x":1356.6,"e":-1.486},{"b":"v2","x":1368.7,"e":-1.524},{"b":"v2","x":1384.7,"e":-1.535},{"b":"v2","x":1396.8,"e":-1.520},{"b":"v2","x":1408.8,"e":-1.473},{"b":"v2","x":1420.9,"e":-1.380},{"b":"v2","x":1433.0,"e":-1.254},{"b":"v2","x":1445.0,"e":-1.101},{"b":"v2","x":1457.1,"e":-0.942},{"b":"v2","x":1469.1,"e":-0.782},{"b":"v2","x":1481.2,"e":-0.623},{"b":"v2","x":1493.2,"e":-0.504},{"b":"v2","x":1505.3,"e":-0.430},{"b":"v2","x":1517.3,"e":-0.384},{"b":"v2","x":1529.4,"e":-0.358},{"b":"v2","x":1543.4,"e":-0.342},{"b":"v2","x":1559.5,"e":-0.340},{"b":"v2","x":1559.5,"e":-1.284},{"b":"v2","x":1569.6,"e":-1.290},{"b":"v2","x":1579.6,"e":-1.321},{"b":"v2","x":1589.6,"e":-1.374},{"b":"v2","x":1599.7,"e":-1.407},{"b":"v2","x":1607.7,"e":-1.416},{"b":"v2","x":1615.8,"e":-1.394},{"b":"v2","x":1625.8,"e":-1.327},{"b":"v2","x":1637.9,"e":-1.221},{"b":"v2","x":1649.9,"e":-1.115},{"b":"v2","x":1662.0,"e":-1.028},{"b":"v2","x":1674.0,"e":-0.975},{"b":"v2","x":1686.1,"e":-0.951},{"b":"v2","x":1695.0,"e":-0.945},{"b":"v2","x":1695.0,"e":-1.484},{"b":"v2","x":1704.1,"e":-1.473},{"b":"v2","x":1714.2,"e":-1.447},{"b":"v2","x":1726.2,"e":-1.394},{"b":"v2","x":1738.3,"e":-1.327},{"b":"v2","x":1750.3,"e":-1.241},{"b":"v2","x":1762.4,"e":-1.148},{"b":"v2","x":1774.5,"e":-1.061},{"b":"v2","x":1786.5,"e":-0.995},{"b":"v2","x":1798.6,"e":-0.942},{"b":"v2","x":1810.6,"e":-0.909},{"b":"v2","x":1820.6,"e":-0.895},{"b":"v2","x":1830.0,"e":-0.891},
{"b":"v3a","x":0,"e":-0.669},{"b":"v3a","x":6.4,"e":-0.689},{"b":"v3a","x":14.6,"e":-0.723},{"b":"v3a","x":22.7,"e":-0.756},{"b":"v3a","x":30.9,"e":-0.776},{"b":"v3a","x":39.1,"e":-0.776},{"b":"v3a","x":49.3,"e":-0.753},{"b":"v3a","x":61.5,"e":-0.729},{"b":"v3a","x":73.8,"e":-0.719},{"b":"v3a","x":84.0,"e":-0.723},{"b":"v3a","x":96.2,"e":-0.740},{"b":"v3a","x":108.4,"e":-0.769},{"b":"v3a","x":120.7,"e":-0.812},{"b":"v3a","x":130.9,"e":-0.862},{"b":"v3a","x":141.1,"e":-0.935},{"b":"v3a","x":149.3,"e":-1.015},{"b":"v3a","x":159.5,"e":-1.141},{"b":"v3a","x":169.7,"e":-1.287},{"b":"v3a","x":179.9,"e":-1.447},{"b":"v3a","x":190.1,"e":-1.606},{"b":"v3a","x":200.3,"e":-1.765},{"b":"v3a","x":210.5,"e":-1.911},{"b":"v3a","x":220.7,"e":-2.018},{"b":"v3a","x":225,"e":-2.08},
{"b":"v3b","x":515,"e":-2.06},{"b":"v3b","x":518.7,"e":-2.002},{"b":"v3b","x":537.0,"e":-1.765},{"b":"v3b","x":557.4,"e":-1.513},{"b":"v3b","x":577.8,"e":-1.274},{"b":"v3b","x":598.2,"e":-1.101},{"b":"v3b","x":616.0,"e":-0.995},{"b":"v3b","x":629.7,"e":-0.928},{"b":"v3b","x":641.6,"e":-0.882},{"b":"v3b","x":653.4,"e":-0.852},{"b":"v3b","x":665.3,"e":-0.829},{"b":"v3b","x":677.2,"e":-0.796},{"b":"v3b","x":687.1,"e":-0.756},{"b":"v3b","x":696.9,"e":-0.709},{"b":"v3b","x":704.9,"e":-0.680},{"b":"v3b","x":711.6,"e":-0.669},{"b":"v3b","x":724.6,"e":-0.663},{"b":"v3b","x":740.4,"e":-0.632},{"b":"v3b","x":756.3,"e":-0.586},{"b":"v3b","x":772.1,"e":-0.533},{"b":"v3b","x":787.9,"e":-0.480},{"b":"v3b","x":803.7,"e":-0.428},{"b":"v3b","x":819.5,"e":-0.384},{"b":"v3b","x":835.3,"e":-0.352},{"b":"v3b","x":846.4,"e":-0.340},{"b":"v3b","x":855.1,"e":-0.377},{"b":"v3b","x":863.0,"e":-0.490},{"b":"v3b","x":870.9,"e":-0.636},{"b":"v3b","x":878.8,"e":-0.796},{"b":"v3b","x":886.7,"e":-0.955},{"b":"v3b","x":896.6,"e":-1.128},{"b":"v3b","x":906.5,"e":-1.287},{"b":"v3b","x":918.4,"e":-1.460},{"b":"v3b","x":930.2,"e":-1.613},{"b":"v3b","x":942.1,"e":-1.739},{"b":"v3b","x":954.0,"e":-1.845},{"b":"v3b","x":965.8,"e":-1.925},{"b":"v3b","x":977.7,"e":-1.962},{"b":"v3b","x":991.5,"e":-1.971},{"b":"v3b","x":1005.4,"e":-1.958},{"b":"v3b","x":1021.2,"e":-1.931},{"b":"v3b","x":1035.0,"e":-1.909},{"b":"v3b","x":1046.9,"e":-1.905},{"b":"v3b","x":1058.8,"e":-1.918},{"b":"v3b","x":1070.6,"e":-1.951},{"b":"v3b","x":1086.4,"e":-2.002},{"b":"v3b","x":1090,"e":-2.02},
{"b":"v3c","x":1120,"e":-2.06},{"b":"v3c","x":1124.0,"e":-2.002},{"b":"v3c","x":1135.9,"e":-1.832},{"b":"v3c","x":1147.7,"e":-1.659},{"b":"v3c","x":1157.6,"e":-1.553},{"b":"v3c","x":1167.5,"e":-1.486},{"b":"v3c","x":1179.4,"e":-1.440},{"b":"v3c","x":1195.2,"e":-1.400},{"b":"v3c","x":1211.0,"e":-1.380},{"b":"v3c","x":1226.0,"e":-1.358},{"b":"v3c","x":1236.1,"e":-1.343},{"b":"v3c","x":1258.6,"e":-1.327},{"b":"v3c","x":1276.3,"e":-1.340},{"b":"v3c","x":1296.4,"e":-1.387},{"b":"v3c","x":1316.4,"e":-1.460},{"b":"v3c","x":1336.5,"e":-1.566},{"b":"v3c","x":1356.6,"e":-1.679},{"b":"v3c","x":1376.7,"e":-1.785},{"b":"v3c","x":1390.8,"e":-1.838},{"b":"v3c","x":1400.8,"e":-1.854},{"b":"v3c","x":1412.9,"e":-1.838},{"b":"v3c","x":1424.9,"e":-1.792},{"b":"v3c","x":1441.0,"e":-1.699},{"b":"v3c","x":1457.1,"e":-1.580},{"b":"v3c","x":1473.1,"e":-1.433},{"b":"v3c","x":1489.2,"e":-1.247},{"b":"v3c","x":1505.3,"e":-1.008},{"b":"v3c","x":1521.3,"e":-0.743},{"b":"v3c","x":1537.4,"e":-0.517},{"b":"v3c","x":1549.5,"e":-0.397},{"b":"v3c","x":1559.5,"e":-0.340},{"b":"v3c","x":1559.5,"e":-2.4},
{"b":"v3d","x":1566,"e":-2.06},{"b":"v3d","x":1569.6,"e":-2.002},{"b":"v3d","x":1581.6,"e":-1.898},{"b":"v3d","x":1591.7,"e":-1.818},{"b":"v3d","x":1599.7,"e":-1.776},{"b":"v3d","x":1607.7,"e":-1.763},{"b":"v3d","x":1615.8,"e":-1.779},{"b":"v3d","x":1623.8,"e":-1.825},{"b":"v3d","x":1633.8,"e":-1.905},{"b":"v3d","x":1645.9,"e":-2.002},{"b":"v3d","x":1649,"e":-2.04},
{"b":"v3e","x":1763,"e":-2.06},{"b":"v3e","x":1766.4,"e":-2.002},{"b":"v3e","x":1778.5,"e":-1.805},{"b":"v3e","x":1790.5,"e":-1.606},{"b":"v3e","x":1802.6,"e":-1.460},{"b":"v3e","x":1810.6,"e":-1.387},{"b":"v3e","x":1818.6,"e":-1.347},{"b":"v3e","x":1830.0,"e":-1.330},
{"b":"v4a","x":0,"e":-1.759},{"b":"v4a","x":6.4,"e":-1.739},{"b":"v4a","x":14.6,"e":-1.679},{"b":"v4a","x":22.7,"e":-1.622},{"b":"v4a","x":30.9,"e":-1.590},{"b":"v4a","x":38.2,"e":-1.590},{"b":"v4a","x":47.2,"e":-1.622},{"b":"v4a","x":57.4,"e":-1.712},{"b":"v4a","x":67.6,"e":-1.832},{"b":"v4a","x":75.8,"e":-1.931},{"b":"v4a","x":84.0,"e":-2.024},{"b":"v4a","x":86,"e":-2.05},
{"b":"v5a","x":0,"e":-1.759},{"b":"v5a","x":10.5,"e":-1.779},{"b":"v5a","x":22.7,"e":-1.825},{"b":"v5a","x":32.9,"e":-1.878},{"b":"v5a","x":43.1,"e":-1.938},{"b":"v5a","x":54.6,"e":-2.011},{"b":"v5a","x":57,"e":-2.03},
{"b":"v4b","x":558,"e":-2.06},{"b":"v4b","x":561.5,"e":-2.002},{"b":"v4b","x":577.8,"e":-1.885},{"b":"v4b","x":598.2,"e":-1.760},{"b":"v4b","x":606.0,"e":-1.720},{"b":"v4b","x":617.9,"e":-1.666},{"b":"v4b","x":629.7,"e":-1.613},{"b":"v4b","x":641.6,"e":-1.573},{"b":"v4b","x":653.4,"e":-1.540},{"b":"v4b","x":664.5,"e":-1.530},{"b":"v4b","x":673.2,"e":-1.540},{"b":"v4b","x":681.1,"e":-1.573},{"b":"v4b","x":689.0,"e":-1.626},{"b":"v4b","x":696.9,"e":-1.686},{"b":"v4b","x":704.9,"e":-1.739},{"b":"v4b","x":711.6,"e":-1.763},{"b":"v4b","x":764.2,"e":-1.769},{"b":"v4b","x":803.7,"e":-1.776},{"b":"v4b","x":846.4,"e":-1.781},{"b":"v4b","x":855.1,"e":-1.792},{"b":"v4b","x":865.0,"e":-1.832},{"b":"v4b","x":874.9,"e":-1.898},{"b":"v4b","x":886.7,"e":-2.002},{"b":"v4b","x":889,"e":-2.03},
{"b":"v5b","x":662,"e":-2.05},{"b":"v5b","x":665.3,"e":-2.002},{"b":"v5b","x":673.2,"e":-1.925},{"b":"v5b","x":681.1,"e":-1.858},{"b":"v5b","x":689.0,"e":-1.812},{"b":"v5b","x":696.9,"e":-1.781},{"b":"v5b","x":704.9,"e":-1.765},{"b":"v5b","x":711.6,"e":-1.763},{"b":"v5b","x":764.2,"e":-1.769},{"b":"v5b","x":803.7,"e":-1.776},{"b":"v5b","x":846.4,"e":-1.781},{"b":"v5b","x":855.1,"e":-1.785},{"b":"v5b","x":866.9,"e":-1.818},{"b":"v5b","x":882.8,"e":-1.872},{"b":"v5b","x":898.6,"e":-1.938},{"b":"v5b","x":914.4,"e":-2.002},{"b":"v5b","x":917,"e":-2.03},
{"b":"v4c","x":1497,"e":-2.05},{"b":"v4c","x":1499.2,"e":-2.002},{"b":"v4c","x":1515.3,"e":-1.898},{"b":"v4c","x":1533.4,"e":-1.818},{"b":"v4c","x":1551.5,"e":-1.785},{"b":"v4c","x":1559.5,"e":-1.781},{"b":"v4c","x":1559.5,"e":-2.3},
{"b":"v5c","x":1515,"e":-2.05},{"b":"v5c","x":1517.3,"e":-2.002},{"b":"v5c","x":1533.4,"e":-1.898},{"b":"v5c","x":1549.5,"e":-1.805},{"b":"v5c","x":1559.5,"e":-1.781},{"b":"v5c","x":1559.5,"e":-2.3}
]
},
"encoding": {
  "x": {"field": "x", "type": "quantitative", "title": null, "scale": {"domain": [0, 1830], "nice": false, "zero": false},
        "axis": {"values": [0, 259.5, 410.5, 711.6, 846.4, 1108, 1258.6, 1559.5, 1695, 1830],
                 "labelOffset": {"condition": [{"test": "datum.value < 1", "value": 5}, {"test": "datum.value > 1600 && datum.value < 1800", "value": 26}, {"test": "datum.value > 1500 && datum.value < 1600", "value": 20}], "value": 0}}},
  "y": {"field": "e", "type": "quantitative", "title": "Energy (eV)", "scale": {"domain": [-2, 2], "nice": false, "zero": false},
        "axis": {"values": [-2, -1.5, -1, -0.5, 0, 0.5, 1, 1.5, 2]}}
},
"layer": [
{"data": {"name": "kpts"},
 "mark": {"type": "rule", "color": "#808080", "strokeWidth": 3.3},
 "encoding": {"y": null}},
{"data": {"name": "zero"},
 "mark": {"type": "rule", "color": "black", "strokeWidth": 3.3, "strokeDash": [15, 6.7]},
 "encoding": {"x": null}},
{"data": {"name": "bands"},
 "mark": {"type": "line", "color": "#0000ff", "strokeWidth": 2.7, "clip": true, "strokeJoin": "round"},
 "encoding": {
  "detail": {"field": "b"},
  "order": {"value": null}
 }}
]
}
